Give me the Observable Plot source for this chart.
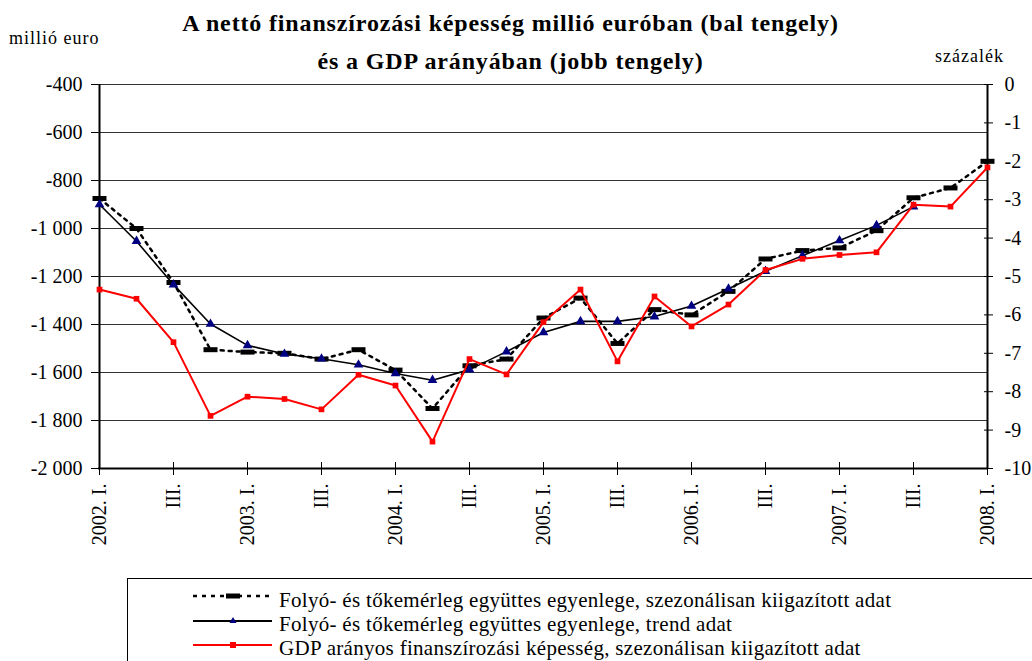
<!DOCTYPE html>
<html><head><meta charset="utf-8">
<script src="https://cdn.jsdelivr.net/npm/d3@7"></script>
<script src="https://cdn.jsdelivr.net/npm/@observablehq/plot@0.6"></script>
<style>
body{margin:0;background:#fff;font-family:"Liberation Serif","Times New Roman",serif;color:#000;}
#wrap{position:relative;width:1032px;height:661px;overflow:hidden;background:#fff;}
.t{position:absolute;white-space:nowrap;z-index:2;}
.title{left:0;width:1021px;text-align:center;font-weight:bold;font-size:24px;letter-spacing:0.85px;line-height:28px;}
.unit{font-size:18px;letter-spacing:1px;line-height:21px;}
#chart{position:absolute;left:0;top:70px;z-index:1;}
#legend{position:absolute;left:127px;top:578px;width:1000px;height:120px;border:1px solid #000;box-sizing:border-box;}
.lsym{position:absolute;left:65px;}
.ltxt{position:absolute;left:151px;font-size:21px;line-height:21px;letter-spacing:0.3px;white-space:nowrap;}
</style></head>
<body><div id="wrap">
<div id="chart"></div>
<div class="t title" style="top:9px">A nettó finanszírozási képesség millió euróban (bal tengely)</div>
<div class="t title" style="top:47px">és a GDP arányában (jobb tengely)</div>
<div class="t unit" style="left:9px;top:28px">millió euro</div>
<div class="t unit" style="right:28px;top:46px">százalék</div>
<div id="legend"></div>
</div>
<script>
const quarters = ["2002. I.","2002. II.","2002. III.","2002. IV.","2003. I.","2003. II.","2003. III.","2003. IV.","2004. I.","2004. II.","2004. III.","2004. IV.","2005. I.","2005. II.","2005. III.","2005. IV.","2006. I.","2006. II.","2006. III.","2006. IV.","2007. I.","2007. II.","2007. III.","2007. IV.","2008. I."];
const tickLabels = ["2002. I.","III.","2003. I.","III.","2004. I.","III.","2005. I.","III.","2006. I.","III.","2007. I.","III.","2008. I."];
const saBalance = [-875,-1000,-1225,-1505,-1515,-1520,-1544,-1505,-1590,-1750,-1572,-1544,-1373,-1290,-1479,-1338,-1360,-1262,-1127,-1092,-1081,-1009,-872,-831,-720];
const trendBalance = [-900,-1053,-1234,-1398,-1487,-1523,-1543,-1568,-1604,-1632,-1588,-1513,-1433,-1387,-1387,-1367,-1323,-1251,-1178,-1113,-1050,-987,-909];
const gdpPct = [-5.34,-5.58,-6.71,-8.63,-8.13,-8.19,-8.46,-7.56,-7.84,-9.30,-7.15,-7.55,-6.19,-5.34,-7.21,-5.52,-6.30,-5.73,-4.83,-4.54,-4.44,-4.37,-3.13,-3.18,-2.16];
const leftTicks = [-400,-600,-800,-1000,-1200,-1400,-1600,-1800,-2000];
const rightTicks = [0,-1,-2,-3,-4,-5,-6,-7,-8,-9,-10];
const legendLabels = [
  "Folyó- és tőkemérleg együttes egyenlege, szezonálisan kiigazított adat",
  "Folyó- és tőkemérleg együttes egyenlege, trend adat",
  "GDP arányos finanszírozási képesség, szezonálisan kiigazított adat"
];

// right axis (percent) mapped onto left axis units: 0% -> -400, -10% -> -2000
const pctToLeft = p => -400 + p * 160;
const leftToPct = v => (v + 400) / 160;

const saData = saBalance.map((v, i) => ({q: quarters[i], v}));
const trendData = trendBalance.map((v, i) => ({q: quarters[i], v}));
const gdpData = gdpPct.map((p, i) => ({q: quarters[i], v: pctToLeft(p)}));
const evenQuarters = quarters.filter((q, i) => i % 2 === 0);

const fmtLeft = d => (d < 0 ? "-" : "") + String(Math.abs(d)).replace(/\B(?=(\d{3})+(?!\d))/g, " ");
const fmtRight = d => { const p = Math.round(leftToPct(d)); return (p < 0 ? "-" : "") + Math.abs(p); };
const dashSymbol = {draw(ctx, size) { ctx.rect(-7, -2.5, 14, 5); }};

const chart = Plot.plot({
  width: 1032,
  height: 480,
  marginTop: 14,
  marginBottom: 82,
  marginLeft: 98,
  marginRight: 44,
  style: {fontFamily: "Liberation Serif, Times New Roman, serif", fontSize: "20px", color: "#000", background: "transparent", overflow: "visible"},
  x: {type: "point", domain: quarters, padding: 0},
  y: {domain: [-2000, -400]},
  marks: [
    Plot.ruleY(leftTicks, {stroke: "#333", strokeWidth: 1}),
    Plot.ruleX([quarters[0], quarters[24]], {stroke: "#000", strokeWidth: 2}),
    Plot.ruleY([-2000], {stroke: "#000", strokeWidth: 2}),
    Plot.ruleX(evenQuarters, {x: d => d, y1: -2000, y2: -1975, stroke: "#000"}),
    Plot.axisY({ticks: leftTicks, tickFormat: fmtLeft, tickSize: 7, tickPadding: 9, label: null, fontSize: 20}),
    Plot.axisY({anchor: "right", ticks: rightTicks.map(pctToLeft), tickFormat: () => "", tickSize: 4, label: null}),
    Plot.axisY({anchor: "right", ticks: rightTicks.map(pctToLeft), tickFormat: fmtRight, tickSize: -5, tickPadding: 21, label: null, fontSize: 20}),
    Plot.axisX({ticks: evenQuarters, tickFormat: d => tickLabels[evenQuarters.indexOf(d)], tickRotate: -90, tickSize: 7, tickPadding: 8, label: null, fontSize: 20}),
    Plot.line(saData, {x: "q", y: "v", stroke: "#000", strokeWidth: 2.5, strokeDasharray: "3,5"}),
    Plot.dot(saData, {x: "q", y: "v", symbol: dashSymbol, fill: "#000", r: 4}),
    Plot.line(trendData, {x: "q", y: "v", stroke: "#000", strokeWidth: 1.6}),
    Plot.dot(trendData, {x: "q", y: "v", symbol: "triangle", fill: "#000080", r: 3.6}),
    Plot.line(gdpData, {x: "q", y: "v", stroke: "#ff0000", strokeWidth: 2}),
    Plot.dot(gdpData, {x: "q", y: "v", symbol: "square", fill: "#ff0000", r: 3.2})
  ]
});
document.getElementById("chart").appendChild(chart);

// legend
const legend = document.getElementById("legend");
const samples = [
  `<line x1="0" y1="6" x2="79" y2="6" stroke="#000" stroke-width="2.5" stroke-dasharray="4,5"/><rect x="33" y="3.5" width="14" height="5" fill="#000"/>`,
  `<line x1="0" y1="6" x2="79" y2="6" stroke="#000" stroke-width="2.2"/><path d="M40,2 L43.5,8 L36.5,8 Z" fill="#000080"/>`,
  `<line x1="0" y1="6" x2="79" y2="6" stroke="#ff0000" stroke-width="2.2"/><rect x="37" y="3" width="6" height="6" fill="#ff0000"/>`
];
const symTop = [11, 36, 60];
const txtTop = [11, 35, 59];
legendLabels.forEach((lab, i) => {
  const s = document.createElement("div");
  s.className = "lsym";
  s.style.top = symTop[i] + "px";
  s.innerHTML = `<svg width="80" height="12" style="display:block">${samples[i]}</svg>`;
  legend.appendChild(s);
  const t = document.createElement("div");
  t.className = "ltxt";
  t.style.top = txtTop[i] + "px";
  t.textContent = lab;
  legend.appendChild(t);
});
</script>
</body></html>
